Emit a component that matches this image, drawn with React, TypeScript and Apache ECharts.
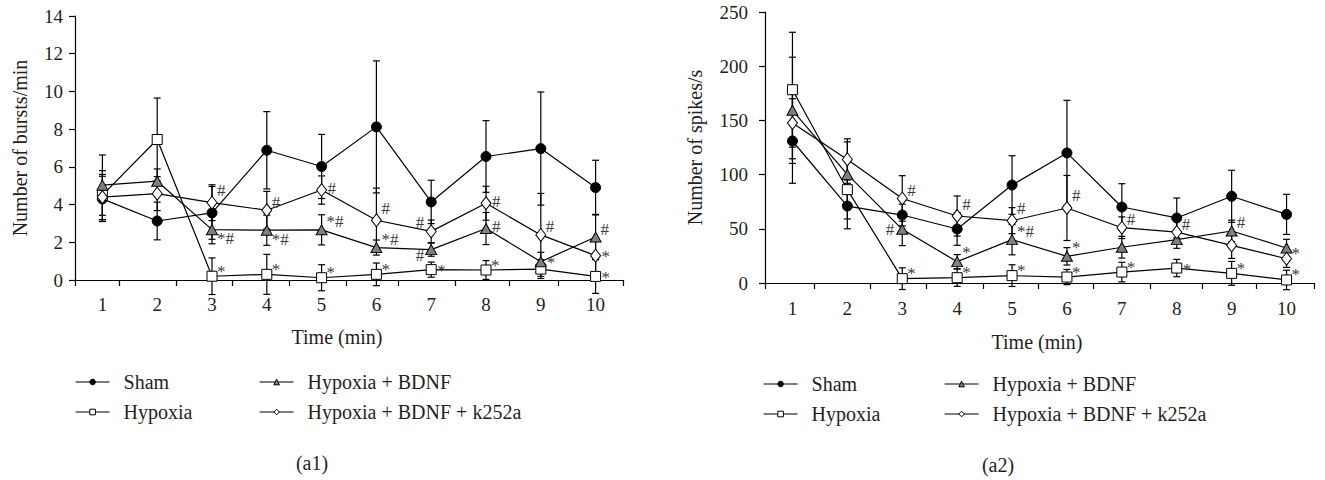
import React, { useEffect, useRef } from "react";
import * as echarts from "echarts";

const FONT = "Liberation Serif";
const INK = "#231f20";

const minutes = [1, 2, 3, 4, 5, 6, 7, 8, 9, 10];
const groupNames = ["Sham", "Hypoxia", "Hypoxia + BDNF", "Hypoxia + BDNF + k252a"];

// (a1) Number of bursts/min
const a1Sham = [4.3, 3.13, 3.56, 6.88, 6.02, 8.12, 4.14, 6.55, 6.97, 4.9];
const a1ShamSD = [1.2, 1.0, 1.4, 2.05, 1.7, 3.5, 1.15, 1.9, 3.0, 1.45];
const a1Hyp = [4.5, 7.45, 0.2, 0.3, 0.12, 0.3, 0.55, 0.53, 0.58, 0.19];
const a1HypSD = [1.3, 2.2, 0.97, 1.06, 0.69, 0.6, 0.4, 0.5, 0.5, 0.9];
const a1Bdnf = [5.03, 5.24, 2.67, 2.64, 2.66, 1.72, 1.61, 2.73, 0.97, 2.28];
const a1BdnfSD = [1.6, 0.65, 0.75, 0.8, 0.8, 0.4, 0.35, 0.85, 0.5, 1.2];
const a1K = [4.4, 4.58, 4.1, 3.7, 4.77, 3.17, 2.58, 4.07, 2.39, 1.29];
const a1KSD = [1.2, 0.9, 0.95, 1.0, 0.75, 1.7, 0.6, 0.9, 2.2, 0.9];
const a1HypMarks = ["", "", "*", "*", "*", "*", "*", "*", "", "*"];
const a1BdnfMarks = ["", "", "*#", "*#", "*#", "*#", "#", "#", "*", "#"];
const a1KMarks = ["", "", "#", "#", "#", "#", "#", "#", "#", "*"];
const a1YTicks = { min: 0, max: 14, step: 2 };
const a1XTicks = [0.5, 1.31, 2.35, 3.37, 4.41, 5.45, 6.4, 7.44, 8.43, 9.32, 10.5];

// (a2) Number of spikes/s
const a2Sham = [131, 71, 62.7, 49.8, 90.4, 120, 70.1, 60, 80, 63.3];
const a2ShamSD = [39, 21, 10, 15, 27, 48.5, 21.5, 18.4, 24, 18.5];
const a2Hyp = [178.3, 86.1, 4, 4.9, 6.8, 5.5, 10.1, 13.8, 8.9, 2.8];
const a2HypSD = [53, 27, 10, 8, 10, 7, 9, 8, 11, 9];
const a2Bdnf = [159.3, 100.2, 49.5, 19.7, 40, 24.6, 33, 40, 48, 32.3];
const a2BdnfSD = [49, 30, 15, 6.5, 14, 8, 10, 8, 10, 8];
const a2K = [147.6, 114, 78, 61.8, 57.5, 69.2, 51, 47, 34.7, 22.4];
const a2KSD = [33, 19, 21, 18.5, 12, 30, 10, 10, 12, 8];
const a2HypMarks = ["", "", "*", "*", "*", "*", "*", "*", "*", "*"];
const a2BdnfMarks = ["", "", "#", "*", "*#", "*", "", "", "#", ""];
const a2KMarks = ["", "", "#", "#", "#", "#", "#", "#", "", "*"];
const a2YTicks = { min: 0, max: 250, step: 50 };
const a2XTicks = [0.5, 1.39, 2.41, 3.43, 4.47, 5.47, 6.47, 7.51, 8.46, 9.44, 10.5];

// annotation placement (layout only)
const a1HypPlace = ["", "", "ur", "ur", "ur", "ur", "r", "ur", "", "r"];
const a1BdnfPlace = ["", "", "dr", "dr", "ur", "ur", "dl", "r", "r", "ur"];
const a1KPlace = ["", "", "uur", "ur", "r", "uur", "ul", "r", "ur", "r"];
const a2HypPlace = ["", "", "ur", "ur", "ur", "ur", "ur", "r", "ur", "ur"];
const a2BdnfPlace = ["", "", "l", "uur", "ur", "uur", "", "", "ur", ""];
const a2KPlace = ["", "", "ur", "uur", "uur", "uur", "ur", "ur", "", "ur"];

const OFFS: Record<string, [number, number, string]> = {
  uur: [5, -12, "left"],
  ur: [5, -8, "left"],
  r: [6, -2, "left"],
  dr: [5, 9, "left"],
  l: [-8, 0, "right"],
  ul: [-7, -9, "right"],
  dl: [-7, 6, "right"],
};

const STY: Record<string, { symbol: string; size: any; fill: string }> = {
  Sham: { symbol: "circle", size: 10, fill: "#000" },
  Hypoxia: { symbol: "rect", size: 10, fill: "#fff" },
  "Hypoxia + BDNF": { symbol: "triangle", size: [11, 10], fill: "#808080" },
  "Hypoxia + BDNF + k252a": { symbol: "diamond", size: [10, 13], fill: "#fff" },
};

const MARK_COLOR = "#3c3c3c";

function buildSeries(gi: number, groups: { mean: number[]; sd: number[]; marks?: string[]; place?: string[] }[]) {
  const out: any[] = [];
  groups.forEach((g) => {
    out.push({
      type: "custom",
      xAxisIndex: gi,
      yAxisIndex: gi,
      silent: true,
      z: 1,
      clip: false,
      itemStyle: { color: "#000" },
      encode: { x: 0, y: 1 },
      data: minutes.map((x, i) => [x, g.mean[i], g.sd[i]]),
      renderItem: (params: any, api: any) => {
        const x = api.value(0);
        const m = api.value(1);
        const s = api.value(2);
        const t = api.coord([x, m + s]);
        const b = api.coord([x, m - s]);
        const hw = 3.5;
        const style = { stroke: "#000", lineWidth: 1.2 };
        return {
          type: "group",
          children: [
            { type: "line", shape: { x1: t[0], y1: t[1], x2: b[0], y2: b[1] }, style },
            { type: "line", shape: { x1: t[0] - hw, y1: t[1], x2: t[0] + hw, y2: t[1] }, style },
            { type: "line", shape: { x1: b[0] - hw, y1: b[1], x2: b[0] + hw, y2: b[1] }, style },
          ],
        };
      },
    });
  });
  groups.forEach((g, k) => {
    const name = groupNames[k];
    const st = STY[name];
    out.push({
      type: "line",
      name,
      xAxisIndex: gi,
      yAxisIndex: gi,
      z: 3,
      symbol: st.symbol,
      symbolSize: st.size,
      showSymbol: true,
      showAllSymbol: true,
      emphasis: { disabled: true },
      lineStyle: { color: "#000", width: 1.2 },
      itemStyle: { color: st.fill, borderColor: "#000", borderWidth: 1 },
      data: minutes.map((x, i) => [x, g.mean[i]]),
    });
  });
  groups.forEach((g) => {
    if (!g.marks) return;
    const marks = g.marks;
    const place = g.place || [];
    out.push({
      type: "custom",
      xAxisIndex: gi,
      yAxisIndex: gi,
      silent: true,
      z: 4,
      clip: false,
      itemStyle: { color: MARK_COLOR },
      encode: { x: 0, y: 1 },
      data: minutes.map((x, i) => [x, g.mean[i], i]),
      renderItem: (params: any, api: any) => {
        const i = api.value(2);
        const txt = marks[i];
        if (!txt) return null;
        const p = api.coord([api.value(0), api.value(1)]);
        const o = OFFS[place[i] || "ur"];
        const dy = o[1] + (txt === "*" ? 3 : 0);
        return {
          type: "text",
          x: p[0] + o[0],
          y: p[1] + dy,
          style: {
            text: txt,
            fill: MARK_COLOR,
            fontSize: 17,
            lineHeight: 12,
            fontFamily: FONT,
            align: o[2],
            verticalAlign: "middle",
          },
        };
      },
    });
  });
  return out;
}

function xAxis(gi: number, ticks: number[]) {
  return {
    type: "value",
    gridIndex: gi,
    min: 0.5,
    max: 10.5,
    axisLine: { show: true, lineStyle: { color: "#000", width: 1.2 } },
    axisTick: { show: true, inside: false, length: 6, customValues: ticks, lineStyle: { color: "#000", width: 1.2 } },
    axisLabel: { customValues: minutes, fontSize: 19, color: INK, fontFamily: FONT, margin: gi === 0 ? 15 : 16 },
    splitLine: { show: false },
  };
}

function yAxis(gi: number, t: { min: number; max: number; step: number }, name: string, gap: number, lm: number) {
  return {
    type: "value",
    gridIndex: gi,
    min: t.min,
    max: t.max,
    interval: t.step,
    name,
    nameLocation: "middle",
    nameGap: gap,
    nameTextStyle: { fontSize: 20, color: INK, fontFamily: FONT },
    axisLine: { show: true, lineStyle: { color: "#000", width: 1.2 } },
    axisTick: { show: true, inside: false, length: 6, lineStyle: { color: "#000", width: 1.2 } },
    axisLabel: { fontSize: 19, color: INK, fontFamily: FONT, margin: lm },
    splitLine: { show: false },
  };
}

function legendItem(name: string) {
  const st = STY[name];
  return {
    name,
    itemStyle: { color: st.fill, borderColor: "#000", borderWidth: 1 },
    lineStyle: { color: "#000", width: 1.2 },
  };
}

const legendCommon = {
  orient: "vertical",
  padding: 0,
  itemWidth: 34,
  itemHeight: 7,
  itemGap: 10,
  selectedMode: false,
  textStyle: { fontSize: 20, color: INK, fontFamily: FONT, lineHeight: 20, padding: [0, 0, 0, 9] },
};

export default function App() {
  const ref = useRef<HTMLDivElement>(null);
  useEffect(() => {
    document.body.style.margin = "0";
    const chart = echarts.init(ref.current!, undefined, { renderer: "svg" });
    const titleStyle = { fontSize: 20, fontFamily: FONT, fill: INK, align: "center", verticalAlign: "middle" };
    const option: any = {
      animation: false,
      backgroundColor: "#fff",
      textStyle: { fontFamily: FONT },
      grid: [
        { left: 75, top: 16, width: 548, height: 264 },
        { left: 765, top: 12, width: 549, height: 271 },
      ],
      xAxis: [xAxis(0, a1XTicks), xAxis(1, a2XTicks)],
      yAxis: [
        yAxis(0, a1YTicks, "Number of bursts/min", 45, 12),
        yAxis(1, a2YTicks, "Number of spikes/s", 60, 17),
      ],
      legend: [
        { ...legendCommon, data: [legendItem(groupNames[0]), legendItem(groupNames[1])], left: 75, top: 372 },
        { ...legendCommon, data: [legendItem(groupNames[2]), legendItem(groupNames[3])], left: 259, top: 372 },
        { ...legendCommon, data: [legendItem(groupNames[0]), legendItem(groupNames[1])], left: 763, top: 374 },
        { ...legendCommon, data: [legendItem(groupNames[2]), legendItem(groupNames[3])], left: 944, top: 374 },
      ],
      graphic: [
        { type: "text", x: 337, y: 337, style: { ...titleStyle, text: "Time (min)" } },
        { type: "text", x: 1037, y: 342, style: { ...titleStyle, text: "Time (min)" } },
        { type: "text", x: 312, y: 463, style: { ...titleStyle, text: "(a1)" } },
        { type: "text", x: 998, y: 465, style: { ...titleStyle, text: "(a2)" } },
      ],
      series: [
        ...buildSeries(0, [
          { mean: a1Sham, sd: a1ShamSD },
          { mean: a1Hyp, sd: a1HypSD, marks: a1HypMarks, place: a1HypPlace },
          { mean: a1Bdnf, sd: a1BdnfSD, marks: a1BdnfMarks, place: a1BdnfPlace },
          { mean: a1K, sd: a1KSD, marks: a1KMarks, place: a1KPlace },
        ]),
        ...buildSeries(1, [
          { mean: a2Sham, sd: a2ShamSD },
          { mean: a2Hyp, sd: a2HypSD, marks: a2HypMarks, place: a2HypPlace },
          { mean: a2Bdnf, sd: a2BdnfSD, marks: a2BdnfMarks, place: a2BdnfPlace },
          { mean: a2K, sd: a2KSD, marks: a2KMarks, place: a2KPlace },
        ]),
      ],
    };
    chart.setOption(option);
    return () => chart.dispose();
  }, []);
  return <div ref={ref} style={{ width: 1325, height: 480 }} />;
}
